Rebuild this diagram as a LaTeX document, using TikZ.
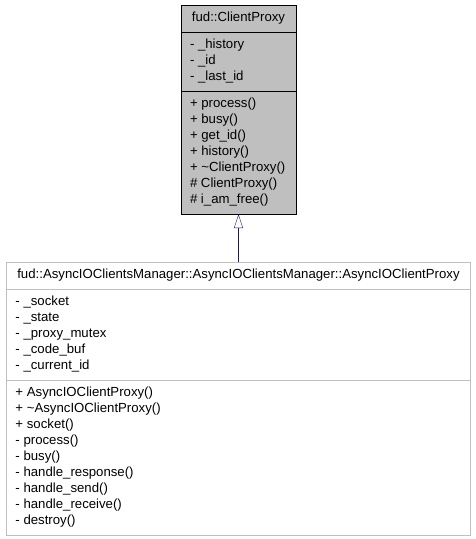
\documentclass[tikz,border=0pt]{standalone}
\usepackage{fontspec}
\setmainfont{Liberation Sans}
\usetikzlibrary{arrows.meta,positioning,shapes.multipart}

\definecolor{umlGrey}{HTML}{BFBFBF}
\definecolor{inheritBlue}{HTML}{191970}

\begin{document}
\begin{tikzpicture}[x=1pt,y=1pt]
  \tikzstyle{classBox} = [draw, rectangle split, rectangle split parts=3, align=left, rectangle split part align={center,left,left}, inner xsep=9pt, inner ysep=5.25pt, font={\fontsize{13.2}{16}\selectfont}]
  \tikzstyle{baseClass} = [classBox, fill=umlGrey, minimum width=115pt]
  \tikzstyle{derivedClass} = [classBox, draw=umlGrey, minimum width=464pt]
  \tikzstyle{inheritEdge} = [inheritBlue, -{Triangle[open, length=14pt, width=9pt]}]

  \useasboundingbox (0,0) rectangle (475,-539);

  \node[baseClass, anchor=north] (clientProxy) at (238.5,-5) {\strut fud::ClientProxy\strut
    \nodepart{two}\strut - \_history\\ - \_id\\ - \_last\_id\strut
    \nodepart{three}\strut + process()\\ + busy()\\ + get\_id()\\ + history()\\ + \textasciitilde ClientProxy()\\ \# ClientProxy()\\ \# i\_am\_free()\strut};
  \node[derivedClass, below=48pt of clientProxy] (asyncProxy) {\strut fud::AsyncIOClientsManager::AsyncIOClientsManager::AsyncIOClientProxy\strut
    \nodepart{two}\strut - \_socket\\ - \_state\\ - \_proxy\_mutex\\ - \_code\_buf\\ - \_current\_id\strut
    \nodepart{three}\strut + AsyncIOClientProxy()\\ + \textasciitilde AsyncIOClientProxy()\\ + socket()\\ - process()\\ - busy()\\ - handle\_response()\\ - handle\_send()\\ - handle\_receive()\\ - destroy()\strut};

  \draw[inheritEdge] (asyncProxy) -- (clientProxy);
\end{tikzpicture}
\end{document}
